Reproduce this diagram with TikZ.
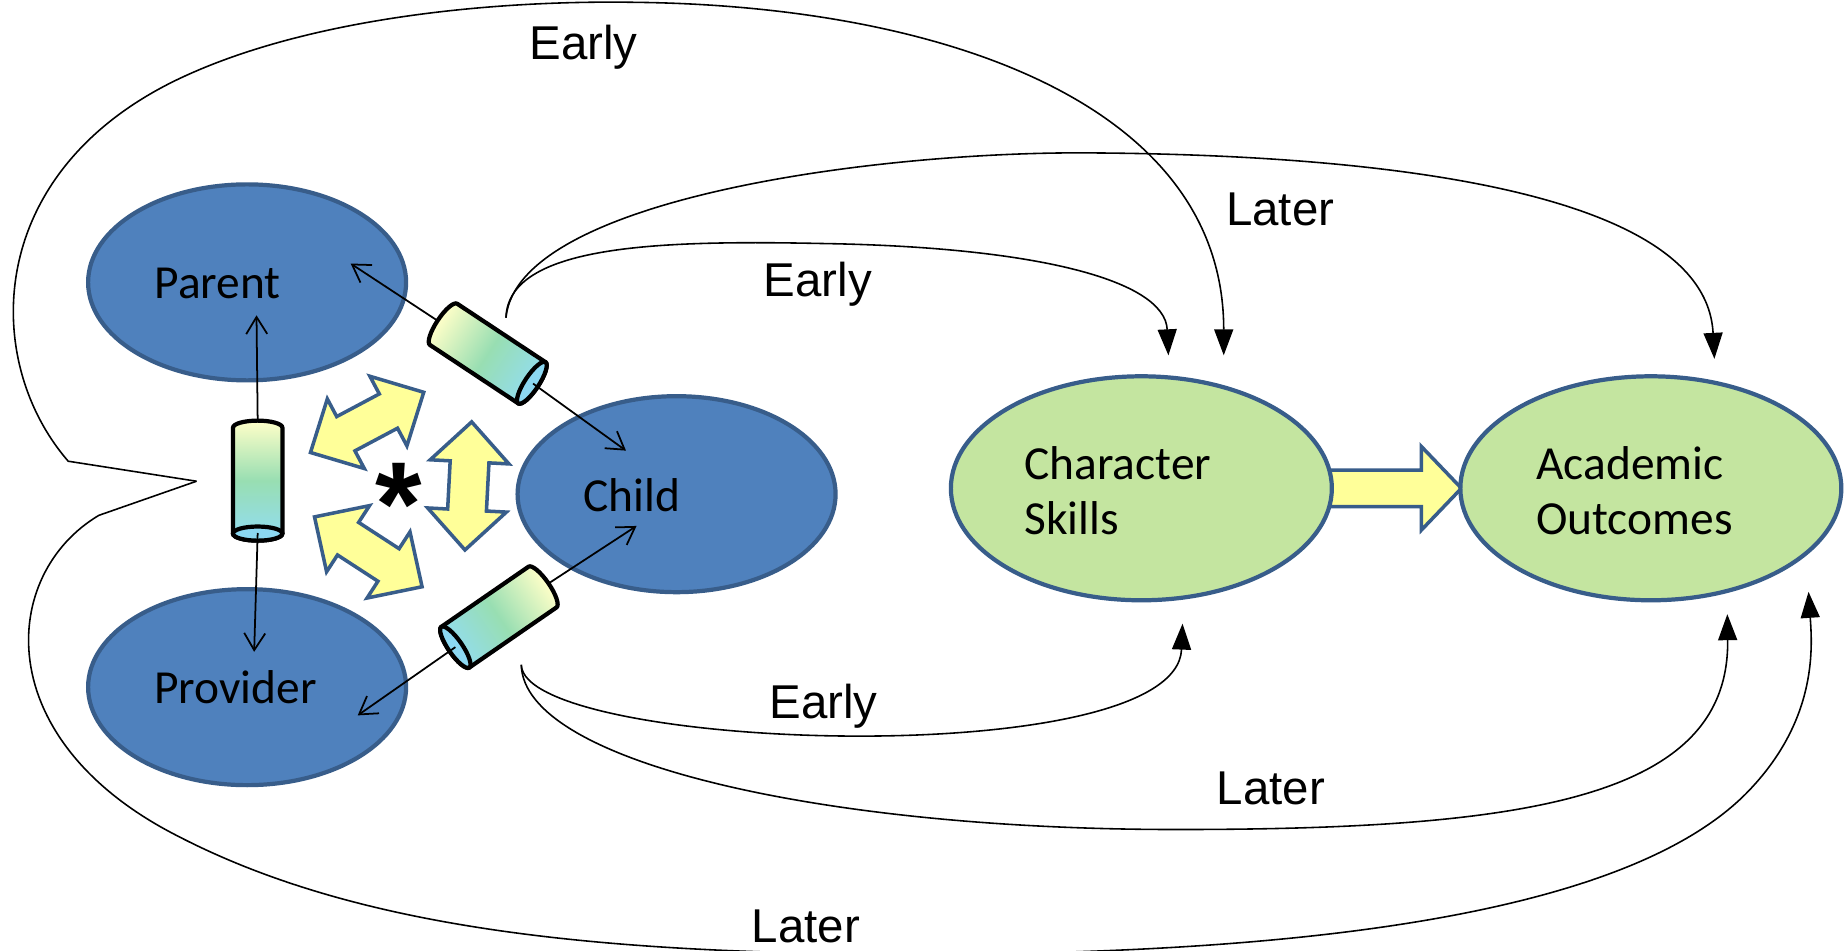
\documentclass[tikz,border=0pt]{standalone}
\usepackage{fontspec}
\setmainfont{Carlito}
\newfontfamily\arialfont{Liberation Sans}
\usepackage{tikz}
\usetikzlibrary{arrows.meta, positioning, calc, shapes}
\definecolor{ellblue}{RGB}{79,129,189}
\definecolor{ellline}{RGB}{56,93,138}
\definecolor{ellgreen}{RGB}{196,229,160}
\definecolor{arryellow}{RGB}{255,255,153}
\definecolor{tubeyellow}{RGB}{255,255,200}
\definecolor{tubegreen}{RGB}{152,222,178}
\definecolor{tubeblue}{RGB}{146,220,244}
\definecolor{capblue}{RGB}{140,216,242}

\tikzset{
  bubble/.style={ellipse, draw=ellline, line width=1.2pt, inner sep=0pt},
  person/.style={bubble, fill=ellblue, minimum width=31.8mm, minimum height=19.6mm},
  outcome/.style={bubble, fill=ellgreen, minimum width=38.1mm, minimum height=22.4mm},
  lbl/.style={font=\fontsize{13.5}{15.5}\selectfont, inner sep=0pt, align=left},
  timing/.style={font=\arialfont\fontsize{13.5}{15.5}\selectfont, inner sep=0pt},
  link/.style={line width=0.5pt, -{Straight Barb[length=1.7mm,width=2.1mm]}},
  effect/.style={line width=0.45pt, -{Triangle[length=2.6mm,width=1.9mm]}},
  pics/dblarrow/.style={code={
    \draw[ellline, fill=arryellow, line width=1pt]
      (-54.5,0) -- (-20.5,33.5) -- (-20.5,16.5) -- (20.5,16.5) -- (20.5,33.5) -- (54.5,0)
      -- (20.5,-33.5) -- (20.5,-16.5) -- (-20.5,-16.5) -- (-20.5,-33.5) -- cycle;
  }}
}
% tube: centre, angle (closed end -> open end)
\newcommand\drawtube[2]{%
  \begin{scope}[transform canvas={shift={(#1)}, rotate=#2}]
    \shadedraw[left color=tubeyellow, right color=tubeblue, middle color=tubegreen, line width=1.2pt]
      (-45,21) arc[start angle=90, end angle=270, x radius=6, y radius=21]
      -- (45,-21) arc[start angle=-90, end angle=90, x radius=6, y radius=21] -- cycle;
    \draw[fill=capblue, line width=1.2pt] (45,0) ellipse[x radius=6, y radius=21];
  \end{scope}}

\begin{document}
\begin{tikzpicture}[x=0.11767mm, y=0.11767mm]
  \path[use as bounding box, fill=white] (0,0) rectangle (1568,808);

  % arrow between outcomes
  \draw[ellline, fill=arryellow, line width=1pt] (1125,408.5) -- (1208,408.5) -- (1208,428.5) -- (1242,393)
    -- (1208,357.5) -- (1208,377.5) -- (1125,377.5) -- cycle;

  \node[person] (parent) at (210,568) {};
  \node[person] (provider) at (210,224) {};
  \node[person] (child) at (575,388) {};
  \node[outcome] (skills) at (970,393) {};
  \node[outcome] (academic) at (1403,393) {};

  \node[lbl] (parentlbl) at (185,567) {Parent};
  \node[lbl] (providerlbl) at (200,224) {Provider};
  \node[lbl] (childlbl) at (537,387) {Child};
  \node[lbl, anchor=west] (skillslbl) at (870,391) {Character\\Skills};
  \node[lbl, anchor=west] (academiclbl) at (1305,391) {Academic\\Outcomes};

  % interactions
  \pic[rotate=28] at (312,449) {dblarrow};
  \pic[rotate=-33] at (313,339) {dblarrow};
  \pic[rotate=87] at (398,395) {dblarrow};
  \node[font=\arialfont\bfseries\fontsize{34}{34}\selectfont, inner sep=0pt] (star) at (339,379) {*};

  % tubes and links
  \drawtube{219,399.5}{-90}
  \drawtube{414.5,507.5}{-33.5}
  \drawtube{424,283.5}{214.6}
  \coordinate (vtop) at (219,450);
  \coordinate (vcap) at (219,355);
  \coordinate (utop) at (371,536);
  \coordinate (ucap) at (453,482);
  \coordinate (ltop) at (466,312);
  \coordinate (lcap) at (387,258);
  \draw[link] (vtop) -- ($(parent)+(8,-28)$);
  \draw[link] (vcap) -- ($(provider)+(6,30)$);
  \draw[link] (utop) -- ($(parent)+(88,16)$);
  \draw[link] (ucap) -- ($(child)+(-43,37)$);
  \draw[link] (ltop) -- ($(child)+(-34,-27)$);
  \draw[link] (lcap) -- ($(provider)+(94,-24)$);

  % early and later effects
  \coordinate (callout) at (167,399);
  \coordinate (midtop) at (430,538);
  \coordinate (midbot) at (443,243);
  \draw[effect] (callout) -- (58,416) .. controls (-15,500) and (-15,660) .. (150,740)
    .. controls (260,793) and (420,808) .. (540,806)
    .. controls (800,803) and (1040,720) .. ($(skills)+(70,113)$);
  \draw[effect] (callout) -- (84,370) .. controls (0,320) and (-10,180) .. (150,98)
    .. controls (300,20) and (500,-3) .. (780,-3)
    .. controls (1150,-3) and (1400,40) .. (1490,140)
    .. controls (1545,200) and (1540,260) .. ($(academic)+(134,-88)$);
  \draw[effect] (midtop) .. controls (432,600) and (560,604) .. (700,601)
    .. controls (880,598) and (990,570) .. ($(skills)+(23,113)$);
  \draw[effect] (midtop) .. controls (440,640) and (750,680) .. (930,678)
    .. controls (1200,676) and (1450,640) .. ($(academic)+(54,110)$);
  \draw[effect] (midbot) .. controls (445,170) and (1000,150) .. ($(skills)+(35,-115)$);
  \draw[effect] (midbot) .. controls (445,160) and (700,103) .. (1000,103)
    .. controls (1300,103) and (1470,130) .. ($(academic)+(65,-107)$);

  \node[timing] (early1) at (496,768) {Early};
  \node[timing] (later1) at (1088,630) {Later};
  \node[timing] (early2) at (695,566) {Early};
  \node[timing] (early3) at (700,208) {Early};
  \node[timing] (later2) at (1080,138) {Later};
  \node[timing] (later3) at (685,21) {Later};
\end{tikzpicture}
\end{document}
